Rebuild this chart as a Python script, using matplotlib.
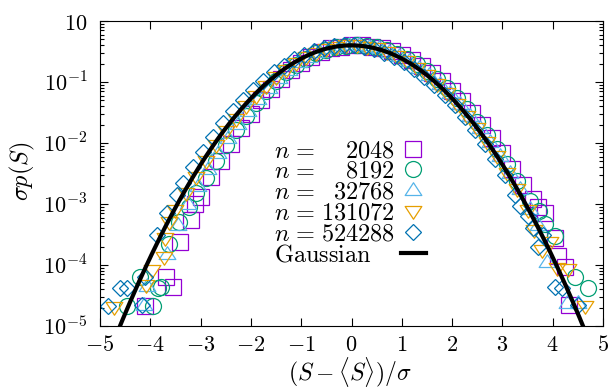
import numpy as np
import matplotlib
matplotlib.use("Agg")
import matplotlib.pyplot as plt
from matplotlib.lines import Line2D
from matplotlib.path import Path
from matplotlib.ticker import LogLocator, NullFormatter, NullLocator

# ---------------- data (x = (S-<S>)/sigma, values stored as log10(sigma p(S))) -------------
sq_x = [-4.10, -3.69, -3.54, -3.41, -3.20, -3.12, -3.00,
        -2.8, -2.6, -2.4, -2.2, -2.0, -1.8, -1.6, -1.4, -1.2, -1.0,
        -0.8, -0.6, -0.4, -0.2, 0.0, 0.2, 0.4, 0.6, 0.8, 1.0,
        1.2, 1.4, 1.6, 1.8, 2.0, 2.2, 2.4, 2.6, 2.8, 3.0,
        3.2, 3.4, 3.6, 3.71, 3.85, 4.05, 4.10, 4.25, 4.32]
sq_log = [-4.67, -4.19, -4.36, -3.62, -3.26, -3.00, -2.88,
          -2.55, -2.29, -2.01, -1.76, -1.52, -1.30, -1.12, -0.95, -0.81, -0.69,
          -0.59, -0.51, -0.45, -0.42, -0.40, -0.40, -0.42, -0.44, -0.49, -0.56,
          -0.64, -0.74, -0.86, -0.99, -1.14, -1.31, -1.50, -1.70, -1.92, -2.16,
          -2.42, -2.69, -2.92, -3.05, -3.15, -3.56, -3.86, -4.03, -4.66]

ci_x = [-4.47, -4.20, -3.95, -3.85, -3.78, -3.62, -3.42, -3.24, -3.10,
        -2.9, -2.7, -2.5, -2.3, -2.1, -1.9, -1.7, -1.5, -1.3, -1.1,
        -0.9, -0.7, -0.5, -0.3, -0.1, 0.1, 0.3, 0.5, 0.7, 0.9,
        1.1, 1.3, 1.5, 1.7, 1.9, 2.1, 2.3, 2.5, 2.7, 2.9,
        3.1, 3.3, 3.55, 3.72, 3.85, 4.05, 4.45, 4.70]
ci_log = [-4.67, -4.19, -4.67, -4.38, -4.36, -3.65, -3.30, -3.05, -2.82,
          -2.57, -2.29, -2.03, -1.78, -1.55, -1.34, -1.15, -0.99, -0.84, -0.72,
          -0.62, -0.53, -0.47, -0.43, -0.41, -0.40, -0.41, -0.43, -0.48, -0.54,
          -0.62, -0.71, -0.82, -0.95, -1.10, -1.27, -1.45, -1.65, -1.87, -2.10,
          -2.35, -2.62, -2.95, -3.12, -3.32, -3.53, -4.20, -4.37]

up_x = [-4.12, -4.07, -3.66, -3.45, -3.25, -3.05,
        -2.85, -2.65, -2.45, -2.25, -2.05, -1.85, -1.65, -1.45, -1.25, -1.05,
        -0.85, -0.65, -0.45, -0.25, -0.05, 0.15, 0.35, 0.55, 0.75, 0.95,
        1.15, 1.35, 1.55, 1.75, 1.95, 2.15, 2.35, 2.55, 2.75, 2.95,
        3.15, 3.35, 3.55, 3.70, 3.88, 4.28, 4.51]
up_log = [-4.66, -4.34, -3.82, -3.35, -3.00, -2.70,
          -2.42, -2.16, -1.92, -1.69, -1.48, -1.28, -1.10, -0.94, -0.80, -0.68,
          -0.59, -0.51, -0.45, -0.42, -0.40, -0.40, -0.42, -0.45, -0.51, -0.57,
          -0.66, -0.77, -0.89, -1.03, -1.18, -1.36, -1.55, -1.76, -1.98, -2.22,
          -2.49, -2.76, -3.08, -3.35, -3.95, -4.63, -4.63]

dn_x = [-4.73, -4.08, -3.97, -3.72, -3.70, -3.62, -3.50, -3.30,
        -3.1, -2.9, -2.7, -2.5, -2.3, -2.1, -1.9, -1.7, -1.5, -1.3,
        -1.1, -0.9, -0.7, -0.5, -0.3, -0.1, 0.1, 0.3, 0.5, 0.7,
        0.9, 1.1, 1.3, 1.5, 1.7, 1.9, 2.1, 2.3, 2.5, 2.7,
        2.9, 3.1, 3.3, 3.50, 3.62, 3.78, 3.95, 4.08, 4.30, 4.64]
dn_log = [-4.69, -4.33, -4.08, -3.87, -3.56, -3.30, -3.10, -2.82,
          -2.55, -2.29, -2.04, -1.81, -1.60, -1.40, -1.23, -1.06, -0.92, -0.80,
          -0.69, -0.59, -0.52, -0.46, -0.42, -0.40, -0.40, -0.42, -0.45, -0.51,
          -0.57, -0.66, -0.77, -0.89, -1.03, -1.18, -1.36, -1.55, -1.76, -1.98,
          -2.22, -2.49, -2.76, -3.10, -3.43, -3.75, -3.63, -4.05, -4.07, -4.67]

di_x = [-4.85, -4.60, -4.46, -4.17, -4.10, -3.86, -3.67, -3.47, -3.35,
        -3.15, -2.95, -2.75, -2.55, -2.35, -2.15, -1.95, -1.75, -1.55, -1.35,
        -1.15, -0.95, -0.75, -0.55, -0.35, -0.15, 0.05, 0.25, 0.45, 0.65,
        0.85, 1.05, 1.25, 1.45, 1.65, 1.85, 2.05, 2.25, 2.45, 2.65,
        2.85, 3.05, 3.25, 3.35, 3.50, 3.61, 3.71, 3.81, 4.05, 4.18, 4.50]
di_log = [-4.67, -4.38, -4.37, -4.66, -4.20, -3.51, -3.15, -2.85, -2.66,
          -2.39, -2.14, -1.90, -1.68, -1.48, -1.29, -1.13, -0.98, -0.84, -0.73,
          -0.63, -0.55, -0.49, -0.44, -0.41, -0.40, -0.40, -0.42, -0.46, -0.52,
          -0.59, -0.68, -0.78, -0.91, -1.05, -1.21, -1.38, -1.58, -1.79, -2.02,
          -2.26, -2.53, -2.85, -3.04, -3.20, -3.40, -3.70, -3.51, -4.36, -4.38, -4.66]

sizes = ["2048", "8192", "32768", "131072", "524288"]
colors = ["#9400D3", "#009E73", "#56B4E9", "#E69F00", "#0072B2"]

xticks = [-5, -4, -3, -2, -1, 0, 1, 2, 3, 4, 5]
yticks = [1, 1e-1, 1e-2, 1e-3, 1e-4, 1e-5]
ytick_labels = [r"$10$", r"$10^{-1}$", r"$10^{-2}$", r"$10^{-3}$", r"$10^{-4}$", r"$10^{-5}$"]

# ---------------- style ----------------
plt.rcParams["mathtext.fontset"] = "cm"
plt.rcParams["font.family"] = ["DejaVu Serif"]
FS = 16      # tick labels
FL = 17.5    # legend and axis labels

tri_up = Path([(-1, -0.6), (1, -0.6), (0, 0.93), (-1, -0.6)],
              [Path.MOVETO, Path.LINETO, Path.LINETO, Path.CLOSEPOLY])
tri_dn = Path([(-1, 0.6), (1, 0.6), (0, -0.93), (-1, 0.6)],
              [Path.MOVETO, Path.LINETO, Path.LINETO, Path.CLOSEPOLY])
markers = ["s", "o", tri_up, tri_dn, "D"]
msizes = [11.0, 11.5, 12.0, 12.0, 8.6]
mew = 0.9

fig = plt.figure(figsize=(6.1, 3.88), dpi=100)
ax = fig.add_axes([100 / 610, 62 / 388, 503 / 610, 305 / 388])

series = [(sq_x, sq_log), (ci_x, ci_log), (up_x, up_log), (dn_x, dn_log), (di_x, di_log)]
handles = []
for (xs, ls), mk, ms, c in zip(series, markers, msizes, colors):
    ax.plot(xs, 10 ** np.asarray(ls), linestyle="none", marker=mk, ms=ms,
            mfc="none", mec=c, mew=mew)
    handles.append(Line2D([], [], linestyle="none", marker=mk, ms=ms,
                          mfc="none", mec=c, mew=mew))

xg = np.linspace(-5, 5, 600)
yg = np.exp(-xg ** 2 / 2) / np.sqrt(2 * np.pi)
ax.plot(xg, yg, color="black", lw=3)
handles.append(Line2D([], [], color="black", lw=3))

ax.set_yscale("log")
ax.set_xlim(-5, 5)
ax.set_ylim(1e-5, 1)
ax.set_xticks(xticks)
ax.set_xticklabels([rf"${v}$" for v in xticks])
ax.xaxis.set_minor_locator(NullLocator())
ax.set_yticks(yticks)
ax.set_yticklabels(ytick_labels)
ax.yaxis.set_minor_locator(LogLocator(base=10, subs=np.arange(2, 10)))
ax.yaxis.set_minor_formatter(NullFormatter())
ax.tick_params(which="both", direction="in", top=True, right=True, width=0.8)
ax.tick_params(which="major", length=5.8, labelsize=FS)
ax.tick_params(which="minor", length=2.9)
ax.tick_params(axis="y", which="major", pad=9)
ax.tick_params(axis="x", which="major", pad=6)
for s in ax.spines.values():
    s.set_linewidth(0.8)

# legend (numbers right-aligned, text on the left, symbol on the right)
eq = r"\hspace{0.12}=\hspace{0.12}"
pad = {4: r"\hspace{1.139}", 5: r"\hspace{0.5695}", 6: ""}
labels = [rf"$n{eq}{pad[len(s)]}{s}$" for s in sizes] + [r"$\mathrm{Gaussian}$"]
leg = ax.legend(handles, labels, loc="upper left", bbox_to_anchor=(0.345, 0.61),
                frameon=False, markerfirst=False,
                prop={"family": "cmr10", "size": FL}, handlelength=1.03,
                handletextpad=0.25, labelspacing=-0.055, borderpad=0, borderaxespad=0)

fig.text(22 / 610, 1 - 171 / 388, r"$\sigma p(S)$", rotation=90,
         ha="center", va="center", fontsize=FL)
fig.text(350 / 610, 1 - 372.5 / 388, r"$(S-\langle S\rangle)/\sigma$",
         ha="center", va="center", fontsize=17)

# left-align the "Gaussian" label with the other labels
fig.canvas.draw()
texts = leg.get_texts()
dx = texts[0].get_window_extent().x0 - texts[-1].get_window_extent().x0
x0, y0 = texts[-1].get_position()
texts[-1].set_position((x0 + dx, y0))

fig.savefig("out.png", dpi=100)
